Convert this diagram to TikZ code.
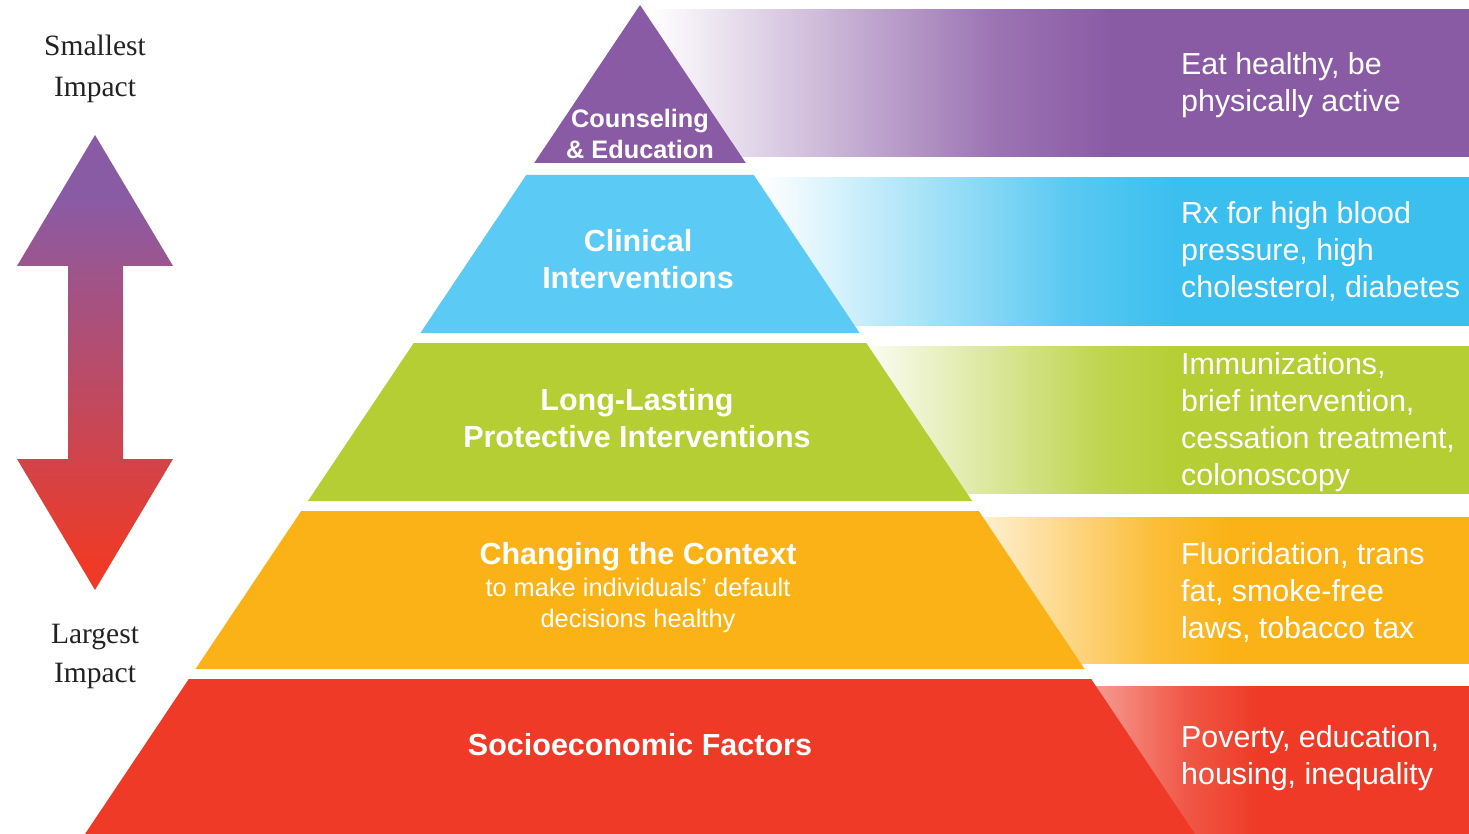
\documentclass[tikz,border=0pt]{standalone}
\usepackage{fontspec}
\setmainfont{Liberation Sans}
\newfontfamily\serifont{Liberation Serif}
\definecolor{cpur}{HTML}{8A5BA5}
\definecolor{ccyan}{HTML}{5BCBF5}
\definecolor{ccyanb}{HTML}{3BBFEF}
\definecolor{cgreen}{HTML}{B5CE33}
\definecolor{corange}{HTML}{FBB216}
\definecolor{cred}{HTML}{EE3A26}
\definecolor{ctext}{HTML}{222222}
\pgfdeclareverticalshading{arrowshade}{100bp}{color(0bp)=(cred); color(28bp)=(cred); color(68bp)=(cpur); color(100bp)=(cpur)}
\newcommand\mkbandshade[5]{\pgfdeclarehorizontalshading{#1}{100bp}{color(0bp)=(white); color(#3bp)=(white); color(#4bp)=(#2!85!white); color(#5bp)=(#2); color(100bp)=(#2)}}
\mkbandshade{shpur}{cpur}{25.6}{46.45}{53.4}
\mkbandshade{shcyan}{ccyanb}{25.5}{47.25}{54.5}
\mkbandshade{shgreen}{cgreen}{25.8}{45.45}{52.0}
\mkbandshade{shorange}{corange}{25.6}{46.2}{53.1}
\mkbandshade{shred}{cred}{25}{47.1}{54.5}
\tikzset{
  layerlabel/.style={text=white, font=\bfseries\fontsize{30.5}{37}\selectfont, align=center, inner sep=0pt},
  sublabel/.style={text=white, font=\fontsize{25.4}{31}\selectfont, align=center, inner sep=0pt},
  bandtext/.style={text=white, font=\fontsize{30.4}{37}\selectfont, align=left, anchor=west, inner sep=0pt},
  sidetext/.style={text=ctext, font=\serifont\fontsize{29.5}{41}\selectfont, align=center, inner sep=0pt},
}
\begin{document}
\begin{tikzpicture}[x=1pt,y=-1pt]
\useasboundingbox (0,0) rectangle (1469,834);
% ---- bands (behind pyramid)
\path[shading=shpur] (640,10) rectangle (1469,157);
\path[shading=shcyan] (753,178) rectangle (1469,325);
\path[shading=shgreen] (840,346) rectangle (1469,493);
\path[shading=shorange] (923,517) rectangle (1469,663);
\path[shading=shred] (960,686) rectangle (1469,834);
% ---- pyramid layers
\fill[cpur] (640,5) -- (745.8,163) -- (534.2,163) -- cycle;
\fill[ccyan] (526.2,175) -- (753.8,175) -- (859.6,333) -- (420.4,333) -- cycle;
\fill[cgreen] (413.7,343) -- (866.3,343) -- (972.1,501) -- (307.9,501) -- cycle;
\fill[corange] (301.2,511) -- (978.8,511) -- (1084.5,669) -- (195.5,669) -- cycle;
\fill[cred] (188.8,679) -- (1091.2,679) -- (1195,834) -- (85,834) -- cycle;
% ---- pyramid labels
\node[layerlabel, font=\bfseries\fontsize{25.3}{31}\selectfont] (l1) at (640,134) {Counseling\\\& Education};
\node[layerlabel] (l2) at (638,259.5) {Clinical\\Interventions};
\node[layerlabel] (l3) at (637,418.5) {Long-Lasting\\Protective Interventions};
\node[layerlabel] (l4) at (638,557) {Changing the Context};
\node[sublabel] (l4s) at (638,605) {to make individuals’ default\\decisions healthy};
\node[layerlabel] (l5) at (640,745) {Socioeconomic Factors};
% ---- band texts
\node[bandtext] (b1) at (1181,85) {Eat healthy, be\\physically active};
\node[bandtext] (b2) at (1181,251) {Rx for high blood\\pressure, high\\cholesterol, diabetes};
\node[bandtext] (b3) at (1181,422.5) {Immunizations,\\brief intervention,\\cessation treatment,\\colonoscopy};
\node[bandtext] (b4) at (1181,592.5) {Fluoridation, trans\\fat, smoke-free\\laws, tobacco tax};
\node[bandtext] (b5) at (1181,758) {Poverty, education,\\housing, inequality};
% ---- impact arrow
\path[shading=arrowshade] (95,135) -- (173,266) -- (123,266) -- (123,459) -- (173,459) -- (95,590) -- (17,459) -- (68,459) -- (68,266) -- (17,266) -- cycle;
\node[sidetext] (top) at (95,69) {Smallest\\Impact};
\node[sidetext, font=\serifont\fontsize{29.5}{39}\selectfont] (bot) at (95,656) {Largest\\Impact};
\end{tikzpicture}
\end{document}
